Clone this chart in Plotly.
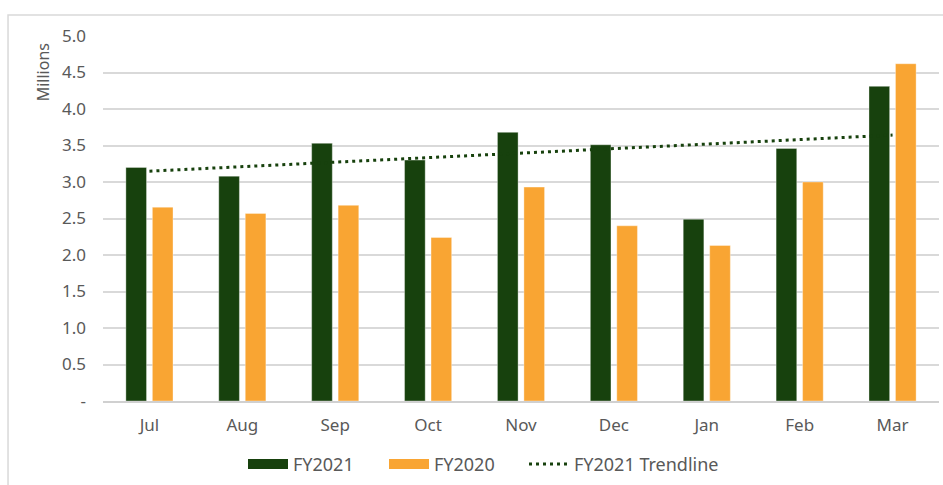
import numpy as np
import plotly.graph_objects as go

months = ["Jul", "Aug", "Sep", "Oct", "Nov", "Dec", "Jan", "Feb", "Mar"]
fy2021 = [3.20, 3.08, 3.53, 3.30, 3.68, 3.51, 2.49, 3.46, 4.31]
fy2020 = [2.655, 2.57, 2.68, 2.24, 2.93, 2.40, 2.13, 3.00, 4.62]
ytick_vals = [0, 0.5, 1.0, 1.5, 2.0, 2.5, 3.0, 3.5, 4.0, 4.5, 5.0]
ytick_text = ["-", "0.5", "1.0", "1.5", "2.0", "2.5", "3.0", "3.5", "4.0", "4.5", "5.0"]

GREEN = "#17410D"
ORANGE = "#F9A533"
TEXT = "#595959"
FONT = "Noto Sans"

idx = np.arange(len(fy2021))
slope, intercept = np.polyfit(idx, fy2021, 1)
trend = intercept + slope * idx

fig = go.Figure()
fig.add_trace(go.Scatter(
    x=months, y=trend, mode="lines", name="FY2021 Trendline",
    line=dict(color=GREEN, width=3, dash="3px,4px"), showlegend=False,
))
fig.add_trace(go.Bar(
    x=months, y=fy2021, name="FY2021", marker=dict(color=GREEN, line=dict(color="rgba(255,255,255,0.35)", width=1)),
    showlegend=False,
))
fig.add_trace(go.Bar(
    x=months, y=fy2020, name="FY2020", marker=dict(color=ORANGE, line=dict(color="rgba(255,255,255,0.35)", width=1)),
    showlegend=False,
))
# legend entries
fig.add_trace(go.Scatter(x=[None], y=[None], mode="lines", name="FY2021",
                         line=dict(color=GREEN, width=10), legend="legend"))
fig.add_trace(go.Scatter(x=[None], y=[None], mode="lines", name="FY2020",
                         line=dict(color=ORANGE, width=10), legend="legend2"))
fig.add_trace(go.Scatter(x=[None], y=[None], mode="lines", name="FY2021 Trendline",
                         line=dict(color=GREEN, width=3, dash="3px,4px"), legend="legend3"))

leg_common = dict(orientation="h", xanchor="left", y=-0.17, yanchor="middle",
                  font=dict(size=18, color=TEXT), itemwidth=40, bgcolor="rgba(0,0,0,0)")

fig.update_layout(
    width=943, height=485,
    margin=dict(l=103, r=4, t=36, b=83),
    paper_bgcolor="white", plot_bgcolor="white",
    font=dict(family=FONT, size=16, color=TEXT),
    barmode="group", bargap=0.43, bargroupgap=0.22,
    legend=dict(x=(249 - 103 - 6) / 836, **leg_common),
    legend2=dict(x=(390 - 103 - 6) / 836, **leg_common),
    legend3=dict(x=(530 - 103 - 6) / 836, **leg_common),
    shapes=[dict(type="rect", xref="paper", yref="paper", x0=-0.1136, x1=1.06, y0=-0.3, y1=1.0574,
                 line=dict(color="#D9D9D9", width=1.5), fillcolor="rgba(0,0,0,0)", layer="below")],
    annotations=[dict(text="Millions", xref="paper", yref="paper", x=-0.072, y=0.9,
                      textangle=-90, showarrow=False, font=dict(size=16, color=TEXT),
                      xanchor="center", yanchor="middle")],
)
fig.update_xaxes(showgrid=False, showline=True, linecolor="#D0D0D0", linewidth=1.5,
                 ticks="", ticklabelstandoff=8, tickfont=dict(size=17, color=TEXT))
fig.update_yaxes(range=[0, 5], tickvals=ytick_vals, ticktext=ytick_text,
                 showgrid=True, gridcolor="#D9D9D9", gridwidth=1.5, zeroline=False,
                 showline=False, ticks="", ticklabelstandoff=16, tickfont=dict(size=17, color=TEXT))

fig.write_html("out.html")
